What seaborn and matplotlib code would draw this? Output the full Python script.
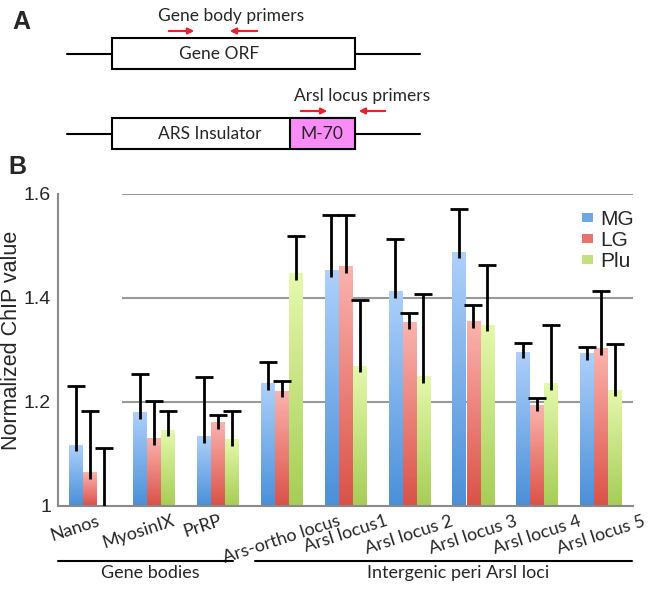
import numpy as np
import pandas as pd
import seaborn as sns
import matplotlib
matplotlib.use("Agg")
from matplotlib import pyplot as plt
from matplotlib.patches import Rectangle, Patch
from matplotlib.colors import LinearSegmentedColormap
import matplotlib.transforms as mtransforms

# values
categories = ["Nanos", "MyosinIX", "PrRP", "Ars-ortho locus", "Arsl locus1",
              "Arsl locus 2", "Arsl locus 3", "Arsl locus 4", "Arsl locus 5"]
groups = ["MG", "LG", "Plu"]
mg = [1.117, 1.180, 1.133, 1.235, 1.452, 1.412, 1.488, 1.296, 1.293]
lg = [1.064, 1.130, 1.160, 1.221, 1.460, 1.353, 1.355, 1.194, 1.302]
plu = [1.000, 1.146, 1.127, 1.447, 1.269, 1.249, 1.348, 1.236, 1.223]
mg_err = [0.113, 0.073, 0.115, 0.042, 0.108, 0.102, 0.084, 0.017, 0.012]
lg_err = [0.118, 0.072, 0.015, 0.020, 0.100, 0.018, 0.032, 0.014, 0.112]
plu_err = [0.111, 0.037, 0.055, 0.073, 0.128, 0.159, 0.116, 0.112, 0.089]
yticks = [1.0, 1.2, 1.4, 1.6]
ytick_labels = ["1", "1.2", "1.4", "1.6"]
group_spans = [("Gene bodies", 0, 2), ("Intergenic peri Arsl loci", 3, 8)]

df = pd.DataFrame({
    "cat": categories * 3,
    "grp": [g for g in groups for _ in categories],
    "val": mg + lg + plu,
    "err": mg_err + lg_err + plu_err,
})

# gradient colours (top, bottom) and legend colour
grad_cols = {"MG": ("#aed0fa", "#4a8fd8"),
             "LG": ("#fbb3ae", "#da5147"),
             "Plu": ("#e6f8ae", "#a6cd55")}
leg_cols = {"MG": "#6ea6e8", "LG": "#e9736c", "Plu": "#c2e07e"}

sns.set_style("white")
helv = "Liberation Sans"
myr = "Lato"

fig = plt.figure(figsize=(6.55, 5.91), dpi=100)

# overlay for panel A drawing and panel letters (pixel coords)
ov = fig.add_axes([0, 0, 1, 1])
ov.set_xlim(0, 655)
ov.set_ylim(591, 0)
ov.axis("off")

ax = fig.add_axes([58 / 655, 85 / 591, 575 / 655, 312 / 591])
ax.set_facecolor("none")

sns.barplot(data=df, x="cat", y="val", hue="grp", hue_order=groups,
            palette=leg_cols, width=0.66, gap=0.04, errorbar=None,
            legend=False, ax=ax)

ylo, yhi = 1.0, 1.6
for cont, g in zip(ax.containers, groups):
    sub = df[df.grp == g]
    cmap = LinearSegmentedColormap.from_list(g, [grad_cols[g][1], grad_cols[g][0]])
    xs = []
    for bar in cont:
        x, w, top = bar.get_x(), bar.get_width(), bar.get_y() + bar.get_height()
        xs.append(x + w / 2)
        bar.set_visible(False)
        if top > ylo:
            ax.imshow(np.linspace(0, 1, 256).reshape(-1, 1), extent=[x, x + w, ylo, top],
                      origin="lower", cmap=cmap, aspect="auto", zorder=2)
    xs = np.array(xs)
    tops = sub.val.values + sub.err.values
    # upper-only error bars: stem starts a little inside the bar, cap on top
    ax.vlines(xs, np.maximum(sub.val.values - 0.012, ylo), tops, color="black",
              lw=2, zorder=3)
    ax.plot(xs, tops, ls="none", marker="_", ms=13, mew=2, color="black",
            zorder=3)

ax.set_xlim(-0.5, len(categories) - 0.5)
ax.set_ylim(ylo, yhi)

# grid lines only from the second category on
for t in yticks[1:]:
    ax.hlines(t, 0.5, len(categories) - 0.5, color="#999999", lw=1.5, zorder=1)

ax.set_yticks(yticks)
ax.set_yticklabels(ytick_labels, fontsize=14, family=helv)
ax.tick_params(axis="y", length=2, width=1, color="#888888", pad=3)
ax.set_xticks(range(len(categories)))
ax.set_xticklabels(categories, rotation=18, ha="center", va="top",
                   fontsize=13, family=myr)
ax.tick_params(axis="x", which="major", length=0, pad=5)
ax.set_xticks(np.arange(len(categories)) + 0.5, minor=True)
ax.tick_params(axis="x", which="minor", length=4, width=1, color="#aaaaaa")
for i, lab in enumerate(ax.get_xticklabels()):
    if i < 3:
        lab.set_transform(lab.get_transform() +
                          mtransforms.ScaledTranslation(-15 / 100, 0, fig.dpi_scale_trans))

for s in ["top", "right"]:
    ax.spines[s].set_visible(False)
for s in ["left", "bottom"]:
    ax.spines[s].set_color("#8a8a8a")
    ax.spines[s].set_linewidth(1.5)

ax.set_xlabel("")
ax.set_ylabel("Normalized ChIP value", fontsize=15.5, family=helv)
ax.yaxis.set_label_coords(-0.062, 0.532)

handles = [Patch(facecolor=leg_cols[g], edgecolor="none", label=g) for g in groups]
ax.legend(handles=handles, loc="upper left", bbox_to_anchor=(0.912, 0.95),
          frameon=False, borderpad=0, borderaxespad=0, handlelength=0.5,
          handleheight=0.3, handletextpad=0.35, labelspacing=0.1,
          prop={"family": helv, "size": 15})

# group brackets under the category labels
trans = mtransforms.blended_transform_factory(ax.transData, ax.transAxes)
for name, a, b in group_spans:
    x0 = a - 0.5 if a == 0 else a - 0.42
    x1 = b + 0.24 if b < len(categories) - 1 else b + 0.48
    ax.plot([x0, x1], [-0.176, -0.176], color="black", lw=1.5, transform=trans,
            clip_on=False)
    ax.text((x0 + x1) / 2 + (0.07 if a == 0 else 0.23), -0.215, name, transform=trans,
            ha="center", va="center", fontsize=13, family=myr)

# panel A schematic
red = "#e8202a"
ov.text(21, 22, "A", fontsize=18, fontweight="bold", family=helv, ha="center", va="center")
ov.text(17, 167, "B", fontsize=18, fontweight="bold", family=helv, ha="center", va="center")

ov.plot([67, 112], [54, 54], color="black", lw=1.5)
ov.plot([355, 420], [54, 54], color="black", lw=1.5)
ov.add_patch(Rectangle((112, 38), 243, 31, facecolor="white", edgecolor="black", lw=1.5))
ov.text(219, 54, "Gene ORF", fontsize=12.5, family=myr, ha="center", va="center")
ov.text(231, 16, "Gene body primers", fontsize=12.5, family=myr, ha="center", va="center")
ov.annotate("", xy=(197, 31), xytext=(166, 31),
            arrowprops=dict(arrowstyle="-|>", color=red, lw=1.5, mutation_scale=9))
ov.annotate("", xy=(227, 31), xytext=(260, 31),
            arrowprops=dict(arrowstyle="-|>", color=red, lw=1.5, mutation_scale=9))

ov.plot([67, 112], [134, 134], color="black", lw=1.5)
ov.plot([355, 420], [134, 134], color="black", lw=1.5)
ov.add_patch(Rectangle((112, 118), 243, 31, facecolor="white", edgecolor="black", lw=1.5))
ov.add_patch(Rectangle((290, 118), 65, 31, facecolor="#fa8cf8", edgecolor="black", lw=1.5))
ov.text(210, 134, "ARS Insulator", fontsize=12.5, family=myr, ha="center", va="center")
ov.text(322, 134, "M-70", fontsize=12.5, family=myr, ha="center", va="center")
ov.text(362, 96, "Arsl locus primers", fontsize=12.5, family=myr, ha="center", va="center")
ov.annotate("", xy=(330, 111), xytext=(298, 111),
            arrowprops=dict(arrowstyle="-|>", color=red, lw=1.5, mutation_scale=9))
ov.annotate("", xy=(356, 111), xytext=(388, 111),
            arrowprops=dict(arrowstyle="-|>", color=red, lw=1.5, mutation_scale=9))

fig.savefig("out.png", dpi=100)
